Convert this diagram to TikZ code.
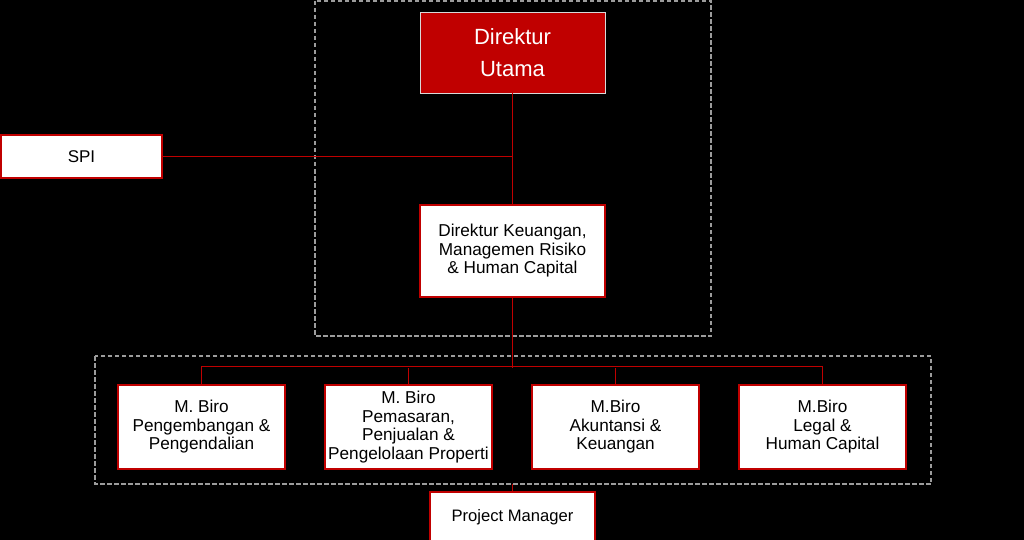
\documentclass[tikz,border=0pt]{standalone}
\usepackage{fontspec}
\setmainfont{Liberation Sans}
\usetikzlibrary{positioning,calc}
\definecolor{merah}{HTML}{C00000}
\definecolor{abu}{HTML}{9C9C9C}

\begin{document}
\begin{tikzpicture}[x=1pt,y=-1pt,
    kotak/.style={draw=merah, line width=1.5pt, fill=white, align=center, inner sep=0pt,
        font=\fontsize{17.2}{18.5}\selectfont},
    garis/.style={draw=merah, line width=1.5pt},
    grup/.style={draw=abu, dash pattern=on 4.5pt off 2.5pt, line width=1.3pt}]
    % Background
    \fill[black] (0,0) rectangle (1024,540);
    \useasboundingbox (0,0) rectangle (1024,540);

    % Dashed groups
    \draw[grup] (315,1) rectangle (711,336);
    \draw[grup] (95,356) rectangle (931,484);

    % Top level
    \node[draw=white!85!black, line width=0.9pt, fill=merah, text=white, align=center,
        minimum width=185pt, minimum height=81pt, inner sep=0pt,
        font=\fontsize{22}{32}\selectfont] (utama) at (512.5,52.5) {Direktur\\Utama};
    \node[kotak, minimum width=161pt, minimum height=43pt,
        font=\fontsize{17}{20}\selectfont] (spi) at (81.5,156.5) {SPI};
    \node[kotak, minimum width=185pt, minimum height=92pt] (keu) at (512.5,251)
        {Direktur Keuangan,\\Managemen Risiko\\\& Human Capital};

    % Biro level
    \node[kotak, minimum width=167pt, minimum height=84pt] (biro1) at (201.5,427)
        {M. Biro\\Pengembangan \&\\Pengendalian};
    \node[kotak, minimum width=167pt, minimum height=84pt] (biro2) at (408.5,427)
        {M. Biro\\Pemasaran,\\Penjualan \&\\Pengelolaan Properti};
    \node[kotak, minimum width=167pt, minimum height=84pt] (biro3) at (615.5,427)
        {M.Biro\\Akuntansi \&\\Keuangan};
    \node[kotak, minimum width=167pt, minimum height=84pt] (biro4) at (822.5,427)
        {M.Biro\\Legal \&\\Human Capital};

    % Project manager
    \node[kotak, minimum width=165pt, minimum height=50pt,
        font=\fontsize{16.6}{18}\selectfont] (pm) at (512.5,517) {Project Manager};
    \coordinate (pmatas) at (512.5,484);

    % Connectors
    \draw[garis] (utama.south) -- (keu.north);
    \draw[garis] (spi.east) -- (spi.east -| utama.south);
    \draw[garis] (keu.south) -- ++(0,70) coordinate (cabang);
    \draw[garis] (biro1.north) -- ++(0,-18) -| (biro4.north);
    \draw[garis] (biro2.north) -- (biro2.north |- cabang);
    \draw[garis] (biro3.north) -- (biro3.north |- cabang);
    \draw[garis] (pmatas) -- (pm.north);
\end{tikzpicture}
\end{document}
